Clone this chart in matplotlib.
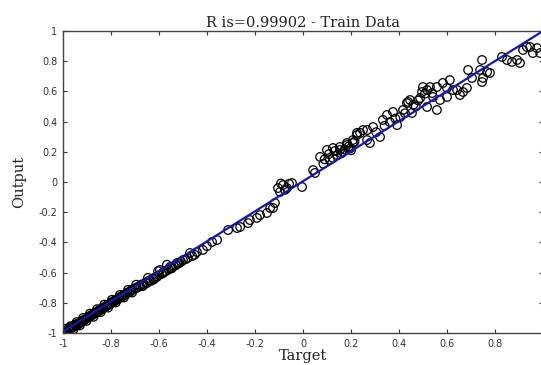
import matplotlib
matplotlib.use('Agg')
import matplotlib.pyplot as plt

# target / output pairs
targets = [
    # dense band near -1
    -1.000, -0.995, -0.990, -0.984, -0.978, -0.972, -0.966, -0.960, -0.953, -0.947,
    -0.940, -0.934, -0.927, -0.920, -0.913, -0.906, -0.899, -0.892, -0.885, -0.878,
    -0.870, -0.863, -0.855, -0.848, -0.840, -0.832, -0.824, -0.816, -0.808, -0.800,
    -0.792, -0.784, -0.775, -0.767, -0.758, -0.750, -0.741, -0.733, -0.724, -0.716,
    -0.997, -0.987, -0.975, -0.963, -0.950, -0.937, -0.923, -0.909, -0.895, -0.881,
    -0.866, -0.851, -0.836, -0.820, -0.804, -0.788, -0.771, -0.754, -0.737, -0.720,
    -0.993, -0.981, -0.969, -0.956, -0.943, -0.930, -0.916, -0.902, -0.888, -0.873,
    -0.858, -0.843, -0.828, -0.812, -0.796, -0.780, -0.763, -0.746, -0.729, -0.712,
    # -0.7 .. -0.45
    -0.708, -0.700, -0.692, -0.684, -0.679, -0.671, -0.663, -0.655, -0.650, -0.642,
    -0.633, -0.625, -0.617, -0.608, -0.600, -0.596, -0.588, -0.579, -0.571, -0.567,
    -0.560, -0.554, -0.546, -0.538, -0.530, -0.525, -0.515, -0.508, -0.500, -0.490,
    -0.480, -0.471, -0.462, -0.452, -0.442,
    -0.695, -0.668, -0.646, -0.621, -0.604, -0.583, -0.550, -0.520,
    # -0.42 .. -0.12
    -0.417, -0.400, -0.379, -0.358, -0.312, -0.275, -0.262, -0.229, -0.221, -0.192,
    -0.179, -0.150, -0.137, -0.125,
    # cluster around -0.1
    -0.117, -0.104, -0.096, -0.092, -0.083, -0.075, -0.067, -0.058, -0.046, -0.004,
    # 0.04 .. 0.3
    0.042, 0.050, 0.071, 0.085, 0.100, 0.112, 0.125, 0.125, 0.142, 0.154,
    0.154, 0.167, 0.183, 0.183, 0.196, 0.208, 0.208, 0.225, 0.225, 0.238,
    0.250, 0.267, 0.267, 0.279, 0.292,
    0.090, 0.108, 0.133, 0.160, 0.175, 0.190, 0.200, 0.215,
    # 0.3 .. 0.67
    0.305, 0.321, 0.333, 0.350, 0.362, 0.375, 0.392, 0.405, 0.417, 0.433,
    0.438, 0.446, 0.454, 0.470, 0.488, 0.496, 0.500, 0.517, 0.517, 0.529,
    0.538, 0.542, 0.558, 0.558, 0.571, 0.583, 0.600, 0.600, 0.612, 0.625,
    0.642, 0.654, 0.667,
    0.340, 0.385, 0.425, 0.460, 0.480, 0.508,
    # 0.68 .. 0.99
    0.683, 0.688, 0.704, 0.738, 0.746, 0.746, 0.750, 0.767, 0.779, 0.829,
    0.850, 0.871, 0.892, 0.904, 0.917, 0.933, 0.946, 0.958, 0.975, 0.988,
]
outputs = [
    -0.995, -0.992, -0.993, -0.985, -0.976, -0.975, -0.968, -0.957, -0.958, -0.949,
    -0.938, -0.939, -0.930, -0.918, -0.917, -0.906, -0.902, -0.890, -0.889, -0.877,
    -0.874, -0.862, -0.860, -0.846, -0.845, -0.831, -0.829, -0.814, -0.813, -0.797,
    -0.798, -0.783, -0.781, -0.764, -0.765, -0.749, -0.748, -0.732, -0.730, -0.716,
    -0.985, -0.982, -0.966, -0.966, -0.945, -0.944, -0.928, -0.912, -0.898, -0.884,
    -0.870, -0.856, -0.839, -0.823, -0.809, -0.793, -0.774, -0.760, -0.741, -0.727,
    -0.972, -0.995, -0.955, -0.975, -0.928, -0.950, -0.900, -0.920, -0.872, -0.893,
    -0.842, -0.862, -0.812, -0.832, -0.780, -0.798, -0.748, -0.765, -0.714, -0.732,
    -0.712, -0.703, -0.701, -0.690, -0.689, -0.678, -0.680, -0.665, -0.669, -0.652,
    -0.655, -0.640, -0.632, -0.628, -0.616, -0.583, -0.608, -0.595, -0.590, -0.548,
    -0.580, -0.563, -0.570, -0.556, -0.551, -0.536, -0.537, -0.528, -0.517, -0.512,
    -0.503, -0.470, -0.490, -0.482, -0.464,
    -0.680, -0.690, -0.635, -0.645, -0.590, -0.602, -0.572, -0.540,
    -0.450, -0.425, -0.397, -0.384, -0.318, -0.305, -0.298, -0.272, -0.252, -0.238,
    -0.219, -0.205, -0.172, -0.172,
    -0.139, -0.040, -0.066, -0.010, -0.020, -0.052, -0.040, -0.012, -0.007, -0.033,
    0.079, 0.060, 0.166, 0.120, 0.212, 0.146, 0.159, 0.225, 0.179, 0.232,
    0.212, 0.199, 0.258, 0.245, 0.222, 0.278, 0.258, 0.311, 0.325, 0.325,
    0.344, 0.278, 0.344, 0.258, 0.364,
    0.150, 0.185, 0.205, 0.190, 0.215, 0.235, 0.210, 0.268,
    0.330, 0.298, 0.411, 0.444, 0.397, 0.464, 0.377, 0.430, 0.477, 0.523,
    0.530, 0.543, 0.457, 0.500, 0.556, 0.596, 0.629, 0.609, 0.497, 0.629,
    0.589, 0.563, 0.629, 0.477, 0.543, 0.656, 0.563, 0.623, 0.675, 0.609,
    0.609, 0.576, 0.596,
    0.372, 0.420, 0.455, 0.512, 0.540, 0.585,
    0.623, 0.742, 0.689, 0.742, 0.808, 0.662, 0.689, 0.728, 0.722, 0.828,
    0.808, 0.795, 0.808, 0.788, 0.874, 0.894, 0.894, 0.854, 0.887, 0.854,
]

# fitted line end points
fit_x = [-1.0, 1.0]
fit_y = [-0.99, 1.0]

tick_vals = [-1, -0.8, -0.6, -0.4, -0.2, 0, 0.2, 0.4, 0.6, 0.8, 1]
tick_labels = ['-1', '-0.8', '-0.6', '-0.4', '-0.2', '0', '0.2', '0.4', '0.6', '0.8', '1']

plt.rcParams['axes.unicode_minus'] = False

fig = plt.figure(figsize=(5.41, 3.65), dpi=100)
ax = fig.add_axes([63 / 541, 32 / 365, 480 / 541, 302 / 365])

ax.scatter(targets, outputs, s=38, facecolors='none', edgecolors='black', linewidths=0.9, zorder=2)
ax.plot(fit_x, fit_y, color='#1818b0', linewidth=1.6, zorder=3)

ax.set_xlim(-1, 1)
ax.set_ylim(-1, 1)
ax.set_xticks(tick_vals)
ax.set_xticklabels(tick_labels)
ax.set_yticks(tick_vals)
ax.set_yticklabels(tick_labels)
ax.tick_params(direction='in', length=3, width=0.8, top=True, right=True,
               labelsize=7, colors='#333333', pad=4)
for sp in ax.spines.values():
    sp.set_color('#444444')
    sp.set_linewidth(1.0)

serif = {'family': 'DejaVu Serif', 'color': '#222222'}
ax.set_title('R is=0.99902 - Train Data', fontdict=serif, fontsize=10.5, pad=3)
ax.set_xlabel('Target', fontdict=serif, fontsize=10.5, labelpad=0)
ax.set_ylabel('Output', fontdict=serif, fontsize=10.5, labelpad=9)

fig.savefig('out.png', dpi=100)
